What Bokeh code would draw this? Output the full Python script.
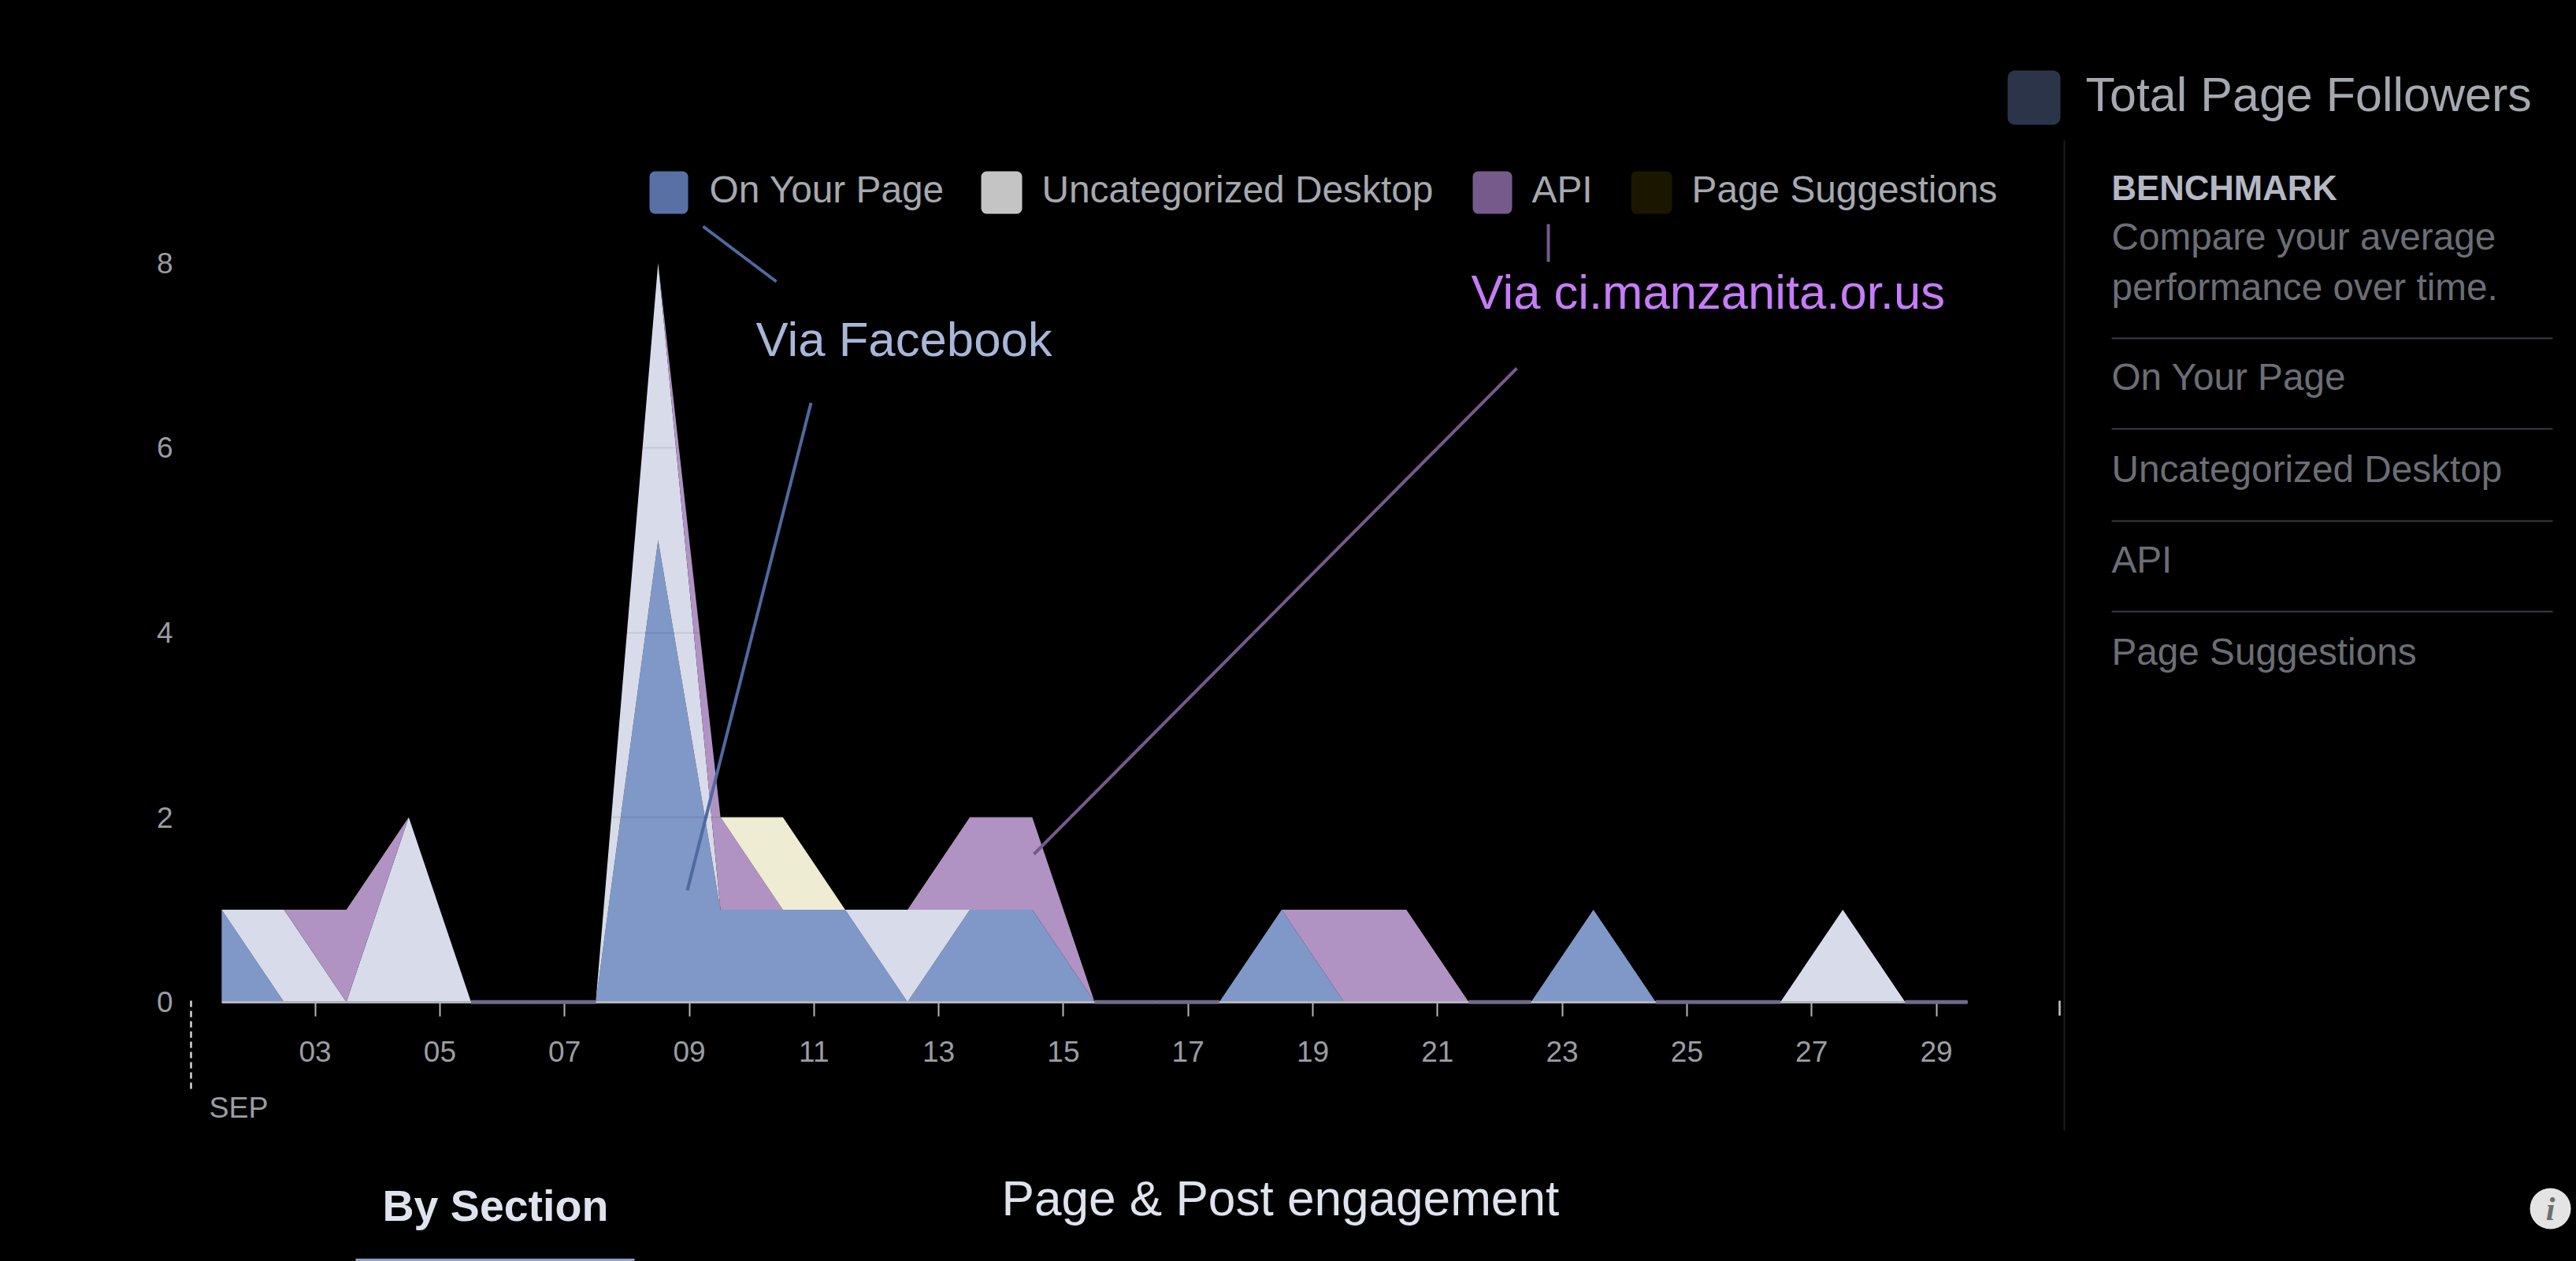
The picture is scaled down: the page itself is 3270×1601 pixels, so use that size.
import numpy as np
from bokeh.plotting import figure
from bokeh.models import Range1d, LinearAxis, FixedTicker, Grid
from bokeh.core.properties import value
from bokeh.embed import file_html
from bokeh.resources import INLINE

# ---- data ----
days = [1.5, 2.5, 3.5, 4.5, 5.5, 6.5, 7.5, 8.5, 9.5, 10.5, 11.5, 12.5, 13.5, 14.5, 15.5,
        16.5, 17.5, 18.5, 19.5, 20.5, 21.5, 22.5, 23.5, 24.5, 25.5, 26.5, 27.5, 28.5, 29.5]
on_your_page = [1, 0, 0, 0, 0, 0, 0, 5, 1, 1, 1, 0, 1, 1, 0, 0, 0, 1, 0, 0, 0, 0, 1, 0, 0, 0, 0, 0, 0]
uncategorized = [0, 1, 0, 2, 0, 0, 0, 3, 0, 0, 0, 1, 0, 0, 0, 0, 0, 0, 0, 0, 0, 0, 0, 0, 0, 0, 1, 0, 0]
api = [0, 0, 1, 0, 0, 0, 0, 0, 1, 0, 0, 0, 1, 1, 0, 0, 0, 0, 1, 1, 0, 0, 0, 0, 0, 0, 0, 0, 0]
page_suggestions = [0, 0, 0, 0, 0, 0, 0, 0, 0, 1, 0, 0, 0, 0, 0, 0, 0, 0, 0, 0, 0, 0, 0, 0, 0, 0, 0, 0, 0]
series_names = ["On Your Page", "Uncategorized Desktop", "API", "Page Suggestions"]
fill_colors = ["#8098c8", "#d8dcea", "#b093c3", "#eeecd2"]
swatch_colors = ["#5870a4", "#c4c4c4", "#765a8c", "#1a1600"]
x_ticks = [3, 5, 7, 9, 11, 13, 15, 17, 19, 21, 23, 25, 27, 29]
x_tick_labels = ["03", "05", "07", "09", "11", "13", "15", "17", "19", "21", "23", "25", "27", "29"]
y_ticks = [0, 2, 4, 6, 8]

# ---- layout (page pixels) ----
PX0, PX1, PY0, PY1 = 0, 3270, 0, 1601
DAY_PX, X3_PX = 79.15, 399.6
UNIT_PX, Y0_PX = 117.3, 1271.7
x_of = lambda X: 3 + (X - X3_PX) / DAY_PX
y_of = lambda Y: (Y0_PX - Y) / UNIT_PX

p = figure(width=PX1 - PX0, height=PY1 - PY0,
           x_range=Range1d(x_of(PX0), x_of(PX1)), y_range=Range1d(y_of(PY1), y_of(PY0)),
           x_axis_location=None, y_axis_location=None, tools="", toolbar_location=None,
           output_backend="svg", min_border=0, background_fill_color="#000000",
           border_fill_color="#000000", outline_line_color=None)
p.center = []
p.extra_x_ranges = {"px": Range1d(PX0, PX1)}
p.extra_y_ranges = {"px": Range1d(PY1, PY0)}
PX = dict(x_range_name="px", y_range_name="px")
FONT = value("Liberation Sans")

# ---- stacked areas ----
arrays = [np.array(a, dtype=float) for a in (on_your_page, uncategorized, api, page_suggestions)]
base = np.zeros(len(days))
for arr, col in zip(arrays, fill_colors):
    top = base + arr
    p.varea(x=days, y1=base, y2=top, fill_color=col)
    base = top
total = base

# ---- axes ----
xaxis = LinearAxis(fixed_location=0, ticker=FixedTicker(ticks=x_ticks),
                   major_label_overrides=dict(zip(x_ticks, x_tick_labels)), bounds=(1.5, 29.5))
xaxis.axis_line_color = "#b4b6bc"
xaxis.axis_line_width = 3
xaxis.major_tick_line_color = "#b4b6bc"
xaxis.major_tick_line_width = 2
xaxis.major_tick_in = 0
xaxis.major_tick_out = 18
xaxis.minor_tick_line_color = None
xaxis.major_label_standoff = 32
xaxis.major_label_text_font = "Liberation Sans"
xaxis.major_label_text_font_size = "37px"
xaxis.major_label_text_color = "#9a9da5"
p.add_layout(xaxis, "below")

yaxis = LinearAxis(fixed_location=x_of(240), ticker=FixedTicker(ticks=y_ticks))
yaxis.axis_line_color = None
yaxis.major_tick_line_color = None
yaxis.minor_tick_line_color = None
yaxis.major_label_standoff = 15
yaxis.major_label_text_font = "Liberation Sans"
yaxis.major_label_text_font_size = "37px"
yaxis.major_label_text_color = "#9a9da5"
p.add_layout(yaxis, "left")

grid = Grid(dimension=1, ticker=FixedTicker(ticks=y_ticks[1:]), level="overlay",
            grid_line_color="#000000", grid_line_alpha=0.09, grid_line_width=2)
p.add_layout(grid)

# baseline of the empty stretches, where all series are zero
days_arr = np.array(days)
empty = (total[:-1] == 0) & (total[1:] == 0)
p.segment(x0=days_arr[:-1][empty], y0=np.zeros(empty.sum()), x1=days_arr[1:][empty], y1=np.zeros(empty.sum()),
          line_color="#6f6a88", line_width=5, level="overlay")


def txt(x, y, s, size, color, style="normal"):
    # y is the wanted baseline; the text glyph sits about 0.36 em lower than its anchor
    p.text(x=[x], y=[y - 0.36 * size], text=[s], text_font=FONT, text_font_size=value(f"{size}px"),
           text_color=color, text_baseline="alphabetic", text_align="left",
           text_font_style=style, **PX)


def seg(x0, y0, x1, y1, color, width=4, dash="solid"):
    p.segment(x0=[x0], y0=[y0], x1=[x1], y1=[y1], line_color=color, line_width=width, line_dash=dash, **PX)


# ---- legend ----
for (x0, x1, tx), name, col in zip([(824, 873, 900), (1245, 1297, 1322), (1869, 1919, 1944), (2070, 2122, 2147)],
                                   series_names, swatch_colors):
    p.quad(left=[x0], right=[x1], top=[217], bottom=[271], fill_color=col, line_color=None, border_radius=7, **PX)
    txt(tx, 257, name, 47.8, "#a5a8b0")

# ---- callouts ----
seg(892, 287, 985, 357, "#4f6aa0")
seg(1029, 511, 872, 1130, "#4f6aa0")
seg(1965, 284, 1965, 332, "#75598c")
seg(1925, 467, 1312, 1084, "#75598c")
txt(959, 452, "Via Facebook", 61.7, "#a8b6d8")
txt(1867, 392, "Via ci.manzanita.or.us", 61.6, "#c67cf8")

# ---- time marks ----
seg(242, 1270, 242, 1385, "#d8d8d8", 2.5, "8 5")
seg(2614, 1270, 2614, 1289, "#c8c8c8", 2.5)
txt(265, 1419, "SEP", 37.5, "#9a9da5")

# ---- right panel ----
p.quad(left=[2548], right=[2615], top=[89], bottom=[158], fill_color="#2b3448", line_color=None, border_radius=9, **PX)
txt(2647, 141, "Total Page Followers", 61, "#a5a8b0")
seg(2620, 178, 2620, 1435, "#1e1f22", 2)
txt(2680, 254, "BENCHMARK", 43.7, "#b4b8c4", "bold")
txt(2680, 317, "Compare your average", 47.7, "#6b6e76")
txt(2680, 381, "performance over time.", 47.7, "#6b6e76")
for yy in (429, 544, 661, 776):
    seg(2680, yy, 3240, yy, "#3a3d42", 2)
for yy, name in zip((495, 612, 727, 844), series_names):
    txt(2680, yy, name, 47.7, "#6b6e76")

# ---- footer ----
txt(485, 1550, "By Section", 55.5, "#dfe3ee", "bold")
seg(451, 1599, 805, 1599, "#8aa0cc", 3)
txt(1271, 1543, "Page & Post engagement", 62.1, "#dfe3ee")
p.scatter(x=[3237], y=[1534], size=52, marker="circle", fill_color="#e4e4e4", line_color=None, **PX)
p.text(x=[3237], y=[1534], text=["i"], text_font=value("Liberation Serif"), text_font_size=value("42px"),
       text_font_style="bold italic", text_color="#6e6e6e", text_align="center", text_baseline="middle", **PX)

html = file_html(p, INLINE)
html = html.replace("</head>", "<style>html,body{background:#000000;margin:0;overflow:hidden;}</style></head>", 1)
open("out.html", "w").write(html)
